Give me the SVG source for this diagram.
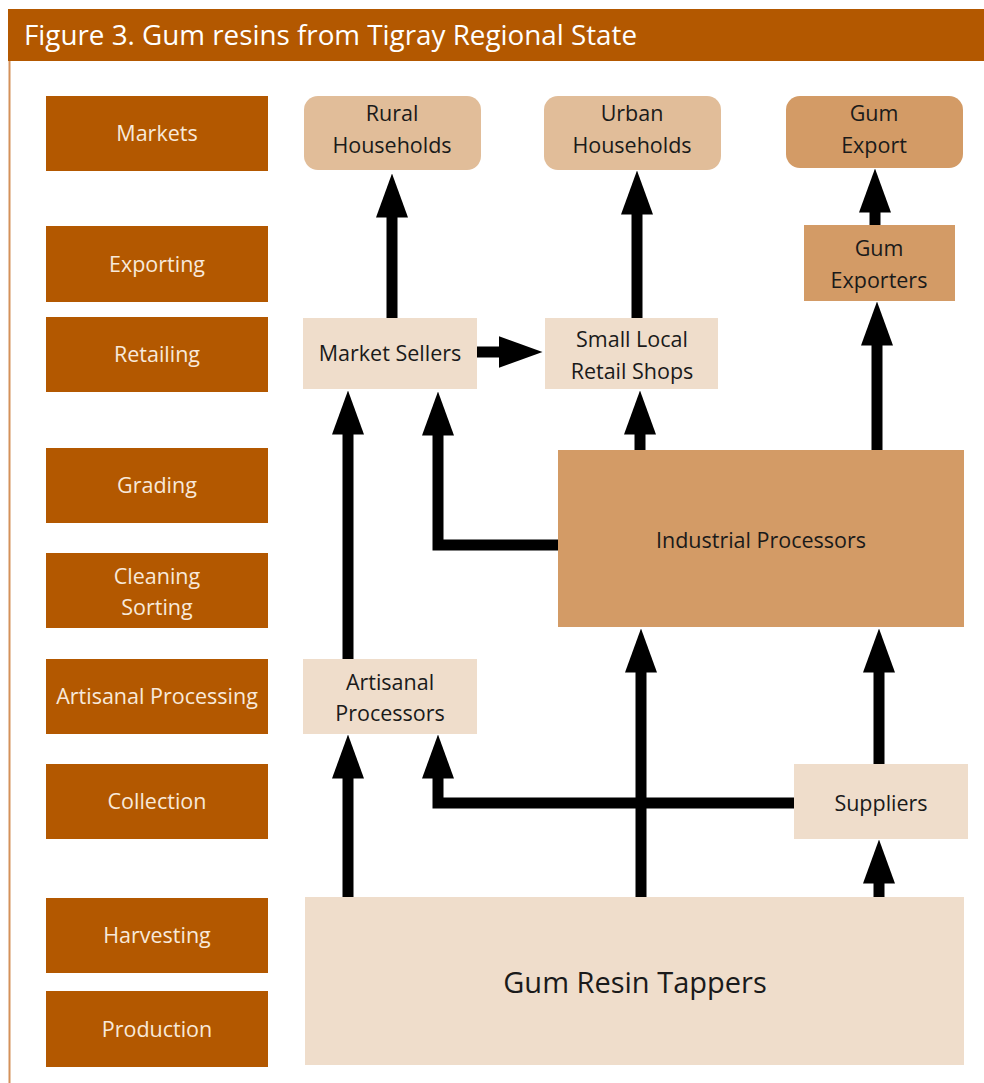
<svg xmlns="http://www.w3.org/2000/svg" width="984" height="1083" viewBox="0 0 984 1083">
<style>
text{font-family:"Open Sans","Noto Sans","Liberation Sans",sans-serif;text-anchor:middle}
.stage rect{fill:#b35800}
.stage text{fill:#f8e9da;font-size:21.5px}
.lt{fill:#efddcb}
.md{fill:#e1bd99}
.dk{fill:#d39b66}
.node text{fill:#1a1a1a;font-size:21.5px}
.conn path{fill:none;stroke:#000;stroke-width:11;stroke-linejoin:miter;marker-end:url(#ah)}
</style>
<defs>
<marker id="ah" markerUnits="userSpaceOnUse" markerWidth="44" markerHeight="32" viewBox="0 0 44 32" refX="0.5" refY="16" orient="auto">
<path d="M0,0 L44,16 L0,32 Z" fill="#000"/>
</marker>
</defs>
<rect x="0" y="0" width="984" height="1083" fill="#fff"/>
<g id="title">
<rect x="8" y="9" width="976" height="52" fill="#b35800"/>
<text x="24" y="45" textLength="613" lengthAdjust="spacingAndGlyphs" style="text-anchor:start;font-size:26.5px;fill:#fff">Figure 3. Gum resins from Tigray Regional State</text>
<line x1="9.5" y1="61" x2="9.5" y2="1083" stroke="#d4915a" stroke-width="2"/>
</g>
<g id="stages" class="stage">
<g id="stage-markets"><rect x="46" y="96" width="222" height="75"/><text x="157" y="141">Markets</text></g>
<g id="stage-exporting"><rect x="46" y="226" width="222" height="76"/><text x="157" y="272">Exporting</text></g>
<g id="stage-retailing"><rect x="46" y="317" width="222" height="75"/><text x="157" y="362">Retailing</text></g>
<g id="stage-grading"><rect x="46" y="448" width="222" height="75"/><text x="157" y="493">Grading</text></g>
<g id="stage-cleaning"><rect x="46" y="553" width="222" height="75"/><text x="157" y="584">Cleaning</text><text x="157" y="615">Sorting</text></g>
<g id="stage-artisanal"><rect x="46" y="659" width="222" height="75"/><text x="157" y="704">Artisanal Processing</text></g>
<g id="stage-collection"><rect x="46" y="764" width="222" height="75"/><text x="157" y="809">Collection</text></g>
<g id="stage-harvesting"><rect x="46" y="898" width="222" height="75"/><text x="157" y="943">Harvesting</text></g>
<g id="stage-production"><rect x="46" y="991" width="222" height="76"/><text x="157" y="1037">Production</text></g>
</g>
<g id="connectors" class="conn">
<path d="M392,318 V217"/>
<path d="M637,318 V214"/>
<path d="M875,225 V212"/>
<path d="M877,450 V345"/>
<path d="M477,352 H499"/>
<path d="M640,450 V434"/>
<path d="M559,545 H438 V435"/>
<path d="M348,659 V434"/>
<path d="M348,897 V778"/>
<path d="M794,803 H438 V778"/>
<path d="M641,897 V672"/>
<path d="M879,764 V672"/>
<path d="M879,897 V883"/>
</g>
<g id="n-rural" class="node"><rect class="md" x="304" y="96" width="177" height="74" rx="14"/><text x="392" y="121">Rural</text><text x="392" y="153">Households</text></g>
<g id="n-urban" class="node"><rect class="md" x="544" y="96" width="177" height="74" rx="14"/><text x="632" y="121">Urban</text><text x="632" y="153">Households</text></g>
<g id="n-gumexport" class="node"><rect class="dk" x="786" y="96" width="177" height="72" rx="14"/><text x="874" y="121">Gum</text><text x="874" y="153">Export</text></g>
<g id="n-exporters" class="node"><rect class="dk" x="804" y="225" width="151" height="76"/><text x="879" y="256">Gum</text><text x="879" y="288">Exporters</text></g>
<g id="n-market" class="node"><rect class="lt" x="303" y="318" width="174" height="71"/><text x="390" y="361">Market Sellers</text></g>
<g id="n-shops" class="node"><rect class="lt" x="545" y="318" width="173" height="71"/><text x="632" y="347">Small Local</text><text x="632" y="379">Retail Shops</text></g>
<g id="n-industrial" class="node"><rect class="dk" x="558" y="450" width="406" height="177"/><text x="761" y="548">Industrial Processors</text></g>
<g id="n-artisanal" class="node"><rect class="lt" x="303" y="659" width="174" height="75"/><text x="390" y="690">Artisanal</text><text x="390" y="721">Processors</text></g>
<g id="n-suppliers" class="node"><rect class="lt" x="794" y="764" width="174" height="75"/><text x="881" y="811">Suppliers</text></g>
<g id="n-tappers" class="node"><rect class="lt" x="305" y="897" width="659" height="168"/><text x="635" y="993" style="font-size:29px">Gum Resin Tappers</text></g>
</svg>
